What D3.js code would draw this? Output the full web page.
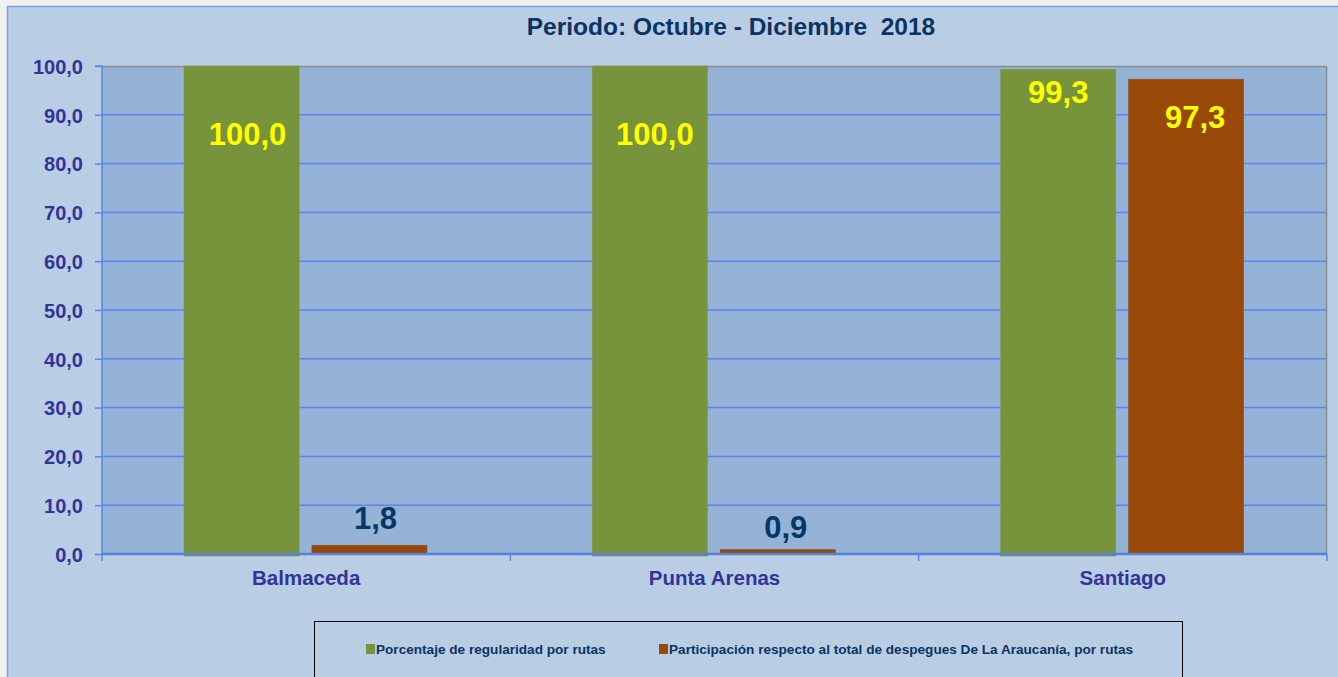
<!DOCTYPE html>
<html>
<head>
<meta charset="utf-8">
<script src="https://cdnjs.cloudflare.com/ajax/libs/d3/7.8.5/d3.min.js"></script>
<style>
  html, body { margin: 0; padding: 0; background: #f0f0f0; }
  svg { display: block; font-family: "Liberation Sans", Arial, sans-serif; }
</style>
</head>
<body>
<svg id="chart" width="1338" height="677"></svg>
<script>
// ---- data ----
const title = "Periodo: Octubre - Diciembre  2018";
const categories = ["Balmaceda", "Punta Arenas", "Santiago"];
const seriesNames = [
  "Porcentaje de regularidad por rutas",
  "Participación respecto al total de despegues De La Araucanía, por rutas"
];
const regularidad = [100.0, 100.0, 99.3];
const participacion = [1.8, 0.9, 97.3];
const yTicks = [0, 10, 20, 30, 40, 50, 60, 70, 80, 90, 100];

// ---- styling ----
const seriesColors = ["#77933c", "#984807"];
const labelColors = ["#ffff00", "#ffff00", "#ffff00", "#073763", "#073763", "#ffff00"];
// label offsets [dx, dy] from bar centre / bar top (px), as placed in the original
const labelOffsets = [[6, 79], [5, 79], [0, 34], [6, -16], [8, -12], [9, 49]];

const svg = d3.select("#chart");
const W = 1338, H = 677;
const plot = { left: 102, right: 1327, top: 66, bottom: 554 };

// background
svg.append("rect").attr("x", 7).attr("y", 6).attr("width", W - 7).attr("height", H - 6).attr("fill", "#b9cde5");
svg.append("line").attr("x1", 7).attr("x2", W).attr("y1", 6.5).attr("y2", 6.5).attr("stroke", "#7d9cf5").attr("stroke-width", 1.5);
svg.append("line").attr("x1", 7.5).attr("x2", 7.5).attr("y1", 6).attr("y2", H).attr("stroke", "#7d9cf5").attr("stroke-width", 1.5);

// plot area
svg.append("rect").attr("x", plot.left).attr("y", plot.top)
  .attr("width", plot.right - plot.left).attr("height", plot.bottom - plot.top)
  .attr("fill", "#95b3d7");

const y = d3.scaleLinear().domain([0, 100]).range([plot.bottom, plot.top]);
const x0 = d3.scaleBand().domain(categories).range([plot.left, plot.right]).paddingInner(0).paddingOuter(0);
const x1 = d3.scaleBand().domain([0, 1]).range([82, 325]).paddingInner(0.1);

// gridlines
svg.append("g").selectAll("line").data(yTicks.filter(d => d > 0 && d < 100)).join("line")
  .attr("x1", plot.left).attr("x2", plot.right)
  .attr("y1", d => y(d)).attr("y2", d => y(d))
  .attr("stroke", "#5b84ee").attr("stroke-width", 1.5);

// top / right border (gray)
svg.append("path")
  .attr("d", `M${plot.left},${plot.top + 0.5}H${plot.right - 0.5}V${plot.bottom}`)
  .attr("fill", "none").attr("stroke", "#8c8c8c").attr("stroke-width", 1.5);

// bars
const barData = [];
[regularidad, participacion].forEach((vals, s) => {
  vals.forEach((v, i) => barData.push({ s, i, v, cat: categories[i] }));
});

svg.append("g").selectAll("rect").data(barData).join("rect")
  .attr("x", d => x0(d.cat) + x1(d.s))
  .attr("width", x1.bandwidth())
  .attr("y", d => y(d.v))
  .attr("height", d => y(0) - y(d.v) + (d.s === 0 ? 2 : 0))
  .attr("fill", d => seriesColors[d.s])
  .attr("stroke", d => d.s === 0 ? "#7f9845" : "#8e5330")
  .attr("stroke-width", 0.6);

// y axis
const yAxis = d3.axisLeft(y).tickValues(yTicks).tickSize(7).tickPadding(12)
  .tickFormat(d => d3.format(".1f")(d).replace(".", ","));
const gy = svg.append("g").attr("transform", `translate(${plot.left},0)`).call(yAxis);
gy.select(".domain").attr("stroke", "#5b84ee").attr("stroke-width", 1.5).attr("d", `M-7,${plot.top}H0V${plot.bottom}`);
gy.selectAll(".tick line").attr("stroke", "#5b84ee").attr("stroke-width", 1.5);
gy.selectAll(".tick text").attr("fill", "#333399").attr("font-size", "20px").attr("font-weight", "bold")
  .attr("font-family", "Liberation Sans, Arial, sans-serif").attr("dy", "0.36em");

// x axis
const xAxis = d3.axisBottom(x0).tickSize(0).tickPadding(27);
const gx = svg.append("g").attr("transform", `translate(0,${plot.bottom})`).call(xAxis);
gx.select(".domain").attr("stroke", "#5a7fd8").attr("stroke-width", 2.5).attr("d", `M${plot.left},0H${plot.right}`);
gx.selectAll(".tick text").attr("fill", "#333399").attr("font-size", "20.5px").attr("font-weight", "bold")
  .attr("font-family", "Liberation Sans, Arial, sans-serif").attr("dy", "0.2em");
// category separator ticks
const sepX = [plot.left].concat(categories.map(c => x0(c) + x0.bandwidth()));
svg.append("g").selectAll("line").data(sepX).join("line")
  .attr("x1", d => d).attr("x2", d => d)
  .attr("y1", plot.bottom).attr("y2", plot.bottom + 7)
  .attr("stroke", "#5b84ee").attr("stroke-width", 1.5);

// value labels
svg.append("g").selectAll("text").data(barData).join("text")
  .attr("x", (d, k) => x0(d.cat) + x1(d.s) + x1.bandwidth() / 2 + labelOffsets[k][0])
  .attr("y", (d, k) => y(d.v) + labelOffsets[k][1])
  .attr("text-anchor", "middle")
  .attr("font-size", "31px").attr("font-weight", "bold")
  .attr("fill", (d, k) => labelColors[k])
  .text(d => d3.format(".1f")(d.v).replace(".", ","));

// title
svg.append("text").attr("x", 731).attr("y", 35).attr("text-anchor", "middle")
  .attr("font-size", "24.5px").attr("font-weight", "bold").attr("fill", "#0b3462")
  .style("white-space", "pre").text(title);

// legend
const lg = svg.append("g");
lg.append("rect").attr("x", 314.5).attr("y", 621.5).attr("width", 868).attr("height", 70)
  .attr("fill", "none").attr("stroke", "#000").attr("stroke-width", 1);
const legendX = [366, 659];
seriesNames.forEach((n, s) => {
  lg.append("rect").attr("x", legendX[s]).attr("y", 644).attr("width", 9).attr("height", 10)
    .attr("fill", seriesColors[s]);
  lg.append("text").attr("x", legendX[s] + 10).attr("y", 653.5)
    .attr("font-size", "13.6px").attr("font-weight", "bold").attr("fill", "#0b3462")
    .text(n);
});
</script>
</body>
</html>
